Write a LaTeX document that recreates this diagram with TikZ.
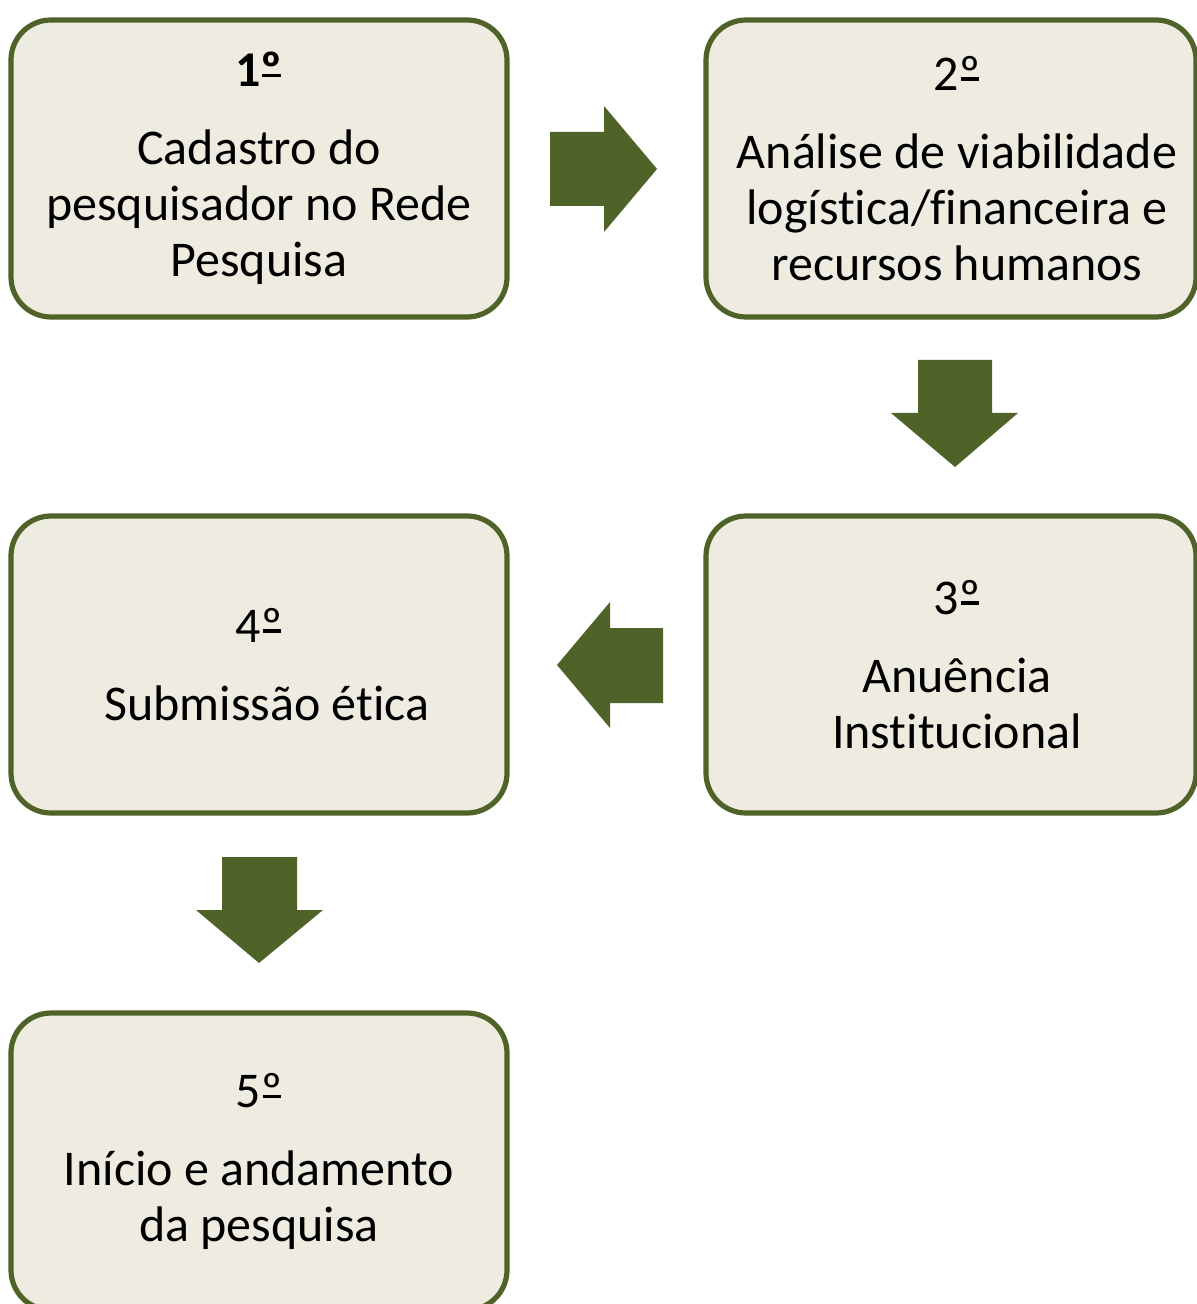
\documentclass[tikz,border=0pt]{standalone}
\usepackage{fontspec}
\setmainfont[Ligatures=NoCommon]{Carlito}
\definecolor{olive}{HTML}{4F6228}
\definecolor{boxfill}{HTML}{EEECE1}
\newcommand\ordu{\leavevmode\setbox0\hbox{º}\rlap{\box0}\setbox0\hbox{º}\kern0.03em\raisebox{0.19em}{\rule{\dimexpr\wd0-0.06em\relax}{0.07em}}\kern0.03em}
\begin{document}
\begin{tikzpicture}[x=0.5pt,y=-0.5pt,
  stepbox/.style={draw=olive, fill=boxfill, line width=2.6pt, rounded corners=20pt,
    minimum width=248pt, minimum height=148.5pt, align=center, inner sep=0pt,
    font=\fontsize{25pt}{28pt}\selectfont},
  blockarrow/.style={fill=olive, draw=none}]
\useasboundingbox (0,0) rectangle (1197,1304);
\fill[white] (0,0) rectangle (1197,1304);
\clip (0,0) rectangle (1197,1304);
% boxes
\node[stepbox] (s1) at (259,168.5) {\textbf{1\ordu}\\[11pt]Cadastro do\\pesquisador no Rede\\Pesquisa};
\node[stepbox, minimum width=245pt] (s2) at (951,168.5) {\hspace*{6pt}2\ordu\\[11pt]\hspace*{6pt}Análise de viabilidade\\\hspace*{6pt}logística/financeira e\\\hspace*{6pt}recursos humanos};
\node[stepbox, minimum width=245pt] (s3) at (951,664.5) {\hspace*{6pt}3\ordu\\[11pt]\hspace*{6pt}Anuência\\\hspace*{6pt}Institucional};
\node[stepbox] (s4) at (259,664.5) {4\ordu\\[11pt]\hspace*{8pt}Submissão ética};
\node[stepbox] (s5) at (259,1161.5) {5\ordu\\[11pt]Início e andamento\\da pesquisa};
% block arrows
\fill[blockarrow] (550,132) -- (604,132) -- (604,106) -- (657,169) -- (604,232) -- (604,206) -- (550,206) -- cycle;
\fill[blockarrow] (918,360) -- (992,360) -- (992,413) -- (1018,413) -- (955,467) -- (891,413) -- (918,413) -- cycle;
\fill[blockarrow] (663,628) -- (610,628) -- (610,602) -- (557,665) -- (610,728) -- (610,703) -- (663,703) -- cycle;
\fill[blockarrow] (222,857) -- (297,857) -- (297,910) -- (323,910) -- (259,963) -- (196,910) -- (222,910) -- cycle;
\end{tikzpicture}
\end{document}
